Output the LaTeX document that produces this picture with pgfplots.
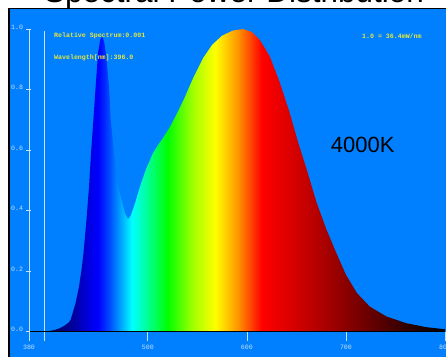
\documentclass[border=0pt]{standalone}
\usepackage{pgfplots}
\pgfplotsset{compat=1.18}
\usepackage{fontspec}
\setmainfont{Liberation Sans}
\newfontfamily\monofont{Liberation Mono}
\definecolor{bgblue}{HTML}{0080FF}
\definecolor{axcol}{HTML}{C8E0FA}
\definecolor{txtyellow}{HTML}{E6E63C}
\definecolor{s380}{HTML}{000040}
\definecolor{s405}{HTML}{000060}
\definecolor{s425}{HTML}{0000A0}
\definecolor{s440}{HTML}{0000E0}
\definecolor{s450}{HTML}{0000FF}
\definecolor{s462}{HTML}{0050FF}
\definecolor{s473}{HTML}{00A8FF}
\definecolor{s484}{HTML}{00FFFF}
\definecolor{s500}{HTML}{00FF90}
\definecolor{s520}{HTML}{00FF00}
\definecolor{s545}{HTML}{A0FF00}
\definecolor{s568}{HTML}{FFFF00}
\definecolor{s590}{HTML}{FF9900}
\definecolor{s615}{HTML}{FF0000}
\definecolor{s650}{HTML}{D20000}
\definecolor{s685}{HTML}{A00000}
\definecolor{s718}{HTML}{700000}
\definecolor{s750}{HTML}{400000}
\definecolor{s785}{HTML}{100000}
\definecolor{s800}{HTML}{000000}
\pgfdeclarehorizontalshading{spectrum}{100bp}{color(0bp)=(s380); color(25bp)=(s380); color(27.98bp)=(s405); color(30.36bp)=(s425); color(32.14bp)=(s440); color(33.33bp)=(s450); color(34.76bp)=(s462); color(36.07bp)=(s473); color(37.38bp)=(s484); color(39.29bp)=(s500); color(41.67bp)=(s520); color(44.64bp)=(s545); color(47.38bp)=(s568); color(50bp)=(s590); color(52.98bp)=(s615); color(57.14bp)=(s650); color(61.31bp)=(s685); color(65.24bp)=(s718); color(69.05bp)=(s750); color(73.21bp)=(s785); color(75bp)=(s800); color(100bp)=(s800)}
\pgfplotstableread{
lambda value
380 0.000
395 0.000
400 0.002
405 0.005
410 0.010
415 0.018
420 0.030
422 0.039
427 0.094
430.5 0.149
433 0.204
435 0.259
438 0.369
440.6 0.479
442.6 0.589
445 0.700
447.3 0.810
449.7 0.920
452 0.965
454 0.975
456 0.955
458 0.910
460.8 0.810
462.5 0.700
466 0.589
470 0.479
474.3 0.424
477 0.390
480 0.372
483 0.385
487 0.424
492 0.479
497.8 0.534
505 0.589
511 0.620
517 0.648
523 0.680
530 0.725
536 0.765
546 0.840
556 0.905
565 0.948
575 0.978
586 0.995
596 1.000
605 0.990
613 0.964
623 0.910
633 0.825
643 0.725
652 0.622
660 0.540
670 0.430
680 0.340
690 0.262
700 0.188
711 0.128
724 0.083
741 0.050
761 0.028
781 0.015
800 0.008
}\spd
\begin{document}
\begin{tikzpicture}[x=1pt,y=1pt]
\useasboundingbox (0,0) rectangle (446,356);
\fill[white] (0,0) rectangle (446,356);
\node[anchor=base, font=\fontsize{31.5}{34}\selectfont, inner sep=0] at (234,353) {Spectral Power Distribution};
\fill[bgblue] (9,-2) rectangle (448,347.5);
\draw[black, line width=1.5pt] (9,-5) -- (9,347.5) -- (450,347.5);
\begin{axis}[
  at={(29pt,24.3pt)}, anchor=south west, scale only axis,
  width=416pt, height=302.7pt,
  xmin=380, xmax=800, ymin=0, ymax=1,
  axis x line*=bottom, axis y line*=left,
  axis line style={-},
  x axis line style={black, line width=0.8pt},
  y axis line style={axcol, line width=0.8pt},
  xtick={380,396,500,600,700,800},
  xticklabels={380,,500,600,700,800},
  ytick={0,0.2,0.4,0.6,0.8,1},
  yticklabels={0.0,0.2,0.4,0.6,0.8,1.0},
  tick style={axcol, line width=0.8pt},
  xtick align=outside, ytick align=center,
  major tick length=5pt,
  xtick style={/pgfplots/major tick length=9.5pt},
  tick label style={font=\monofont\fontsize{6.6}{7}\selectfont, text=axcol},
  xticklabel style={yshift=-5pt},
  yticklabel style={yshift=2pt},
  axis on top,
  clip=false,
]
\addplot[draw=none, shading=spectrum, shading angle=0] table[x=lambda, y=value] {\spd} \closedcycle;
\addplot[axcol, line width=0.8pt] coordinates {(396,0) (396,0.995)};
\end{axis}
\node[anchor=west, font=\monofont\bfseries\fontsize{6.6}{7}\selectfont, text=txtyellow, inner sep=0] at (54,320) {Relative Spectrum:0.001};
\node[anchor=west, font=\monofont\bfseries\fontsize{6.6}{7}\selectfont, text=txtyellow, inner sep=0] at (54,298) {Wavelength[nm]:396.0};
\node[anchor=west, font=\monofont\bfseries\fontsize{6.6}{7}\selectfont, text=txtyellow, inner sep=0] at (362,320) {1.0 = 36.4mW/nm};
\node[anchor=west, font=\fontsize{22}{24}\selectfont, inner sep=0] at (330.7,211) {4000K};
\end{tikzpicture}
\end{document}
